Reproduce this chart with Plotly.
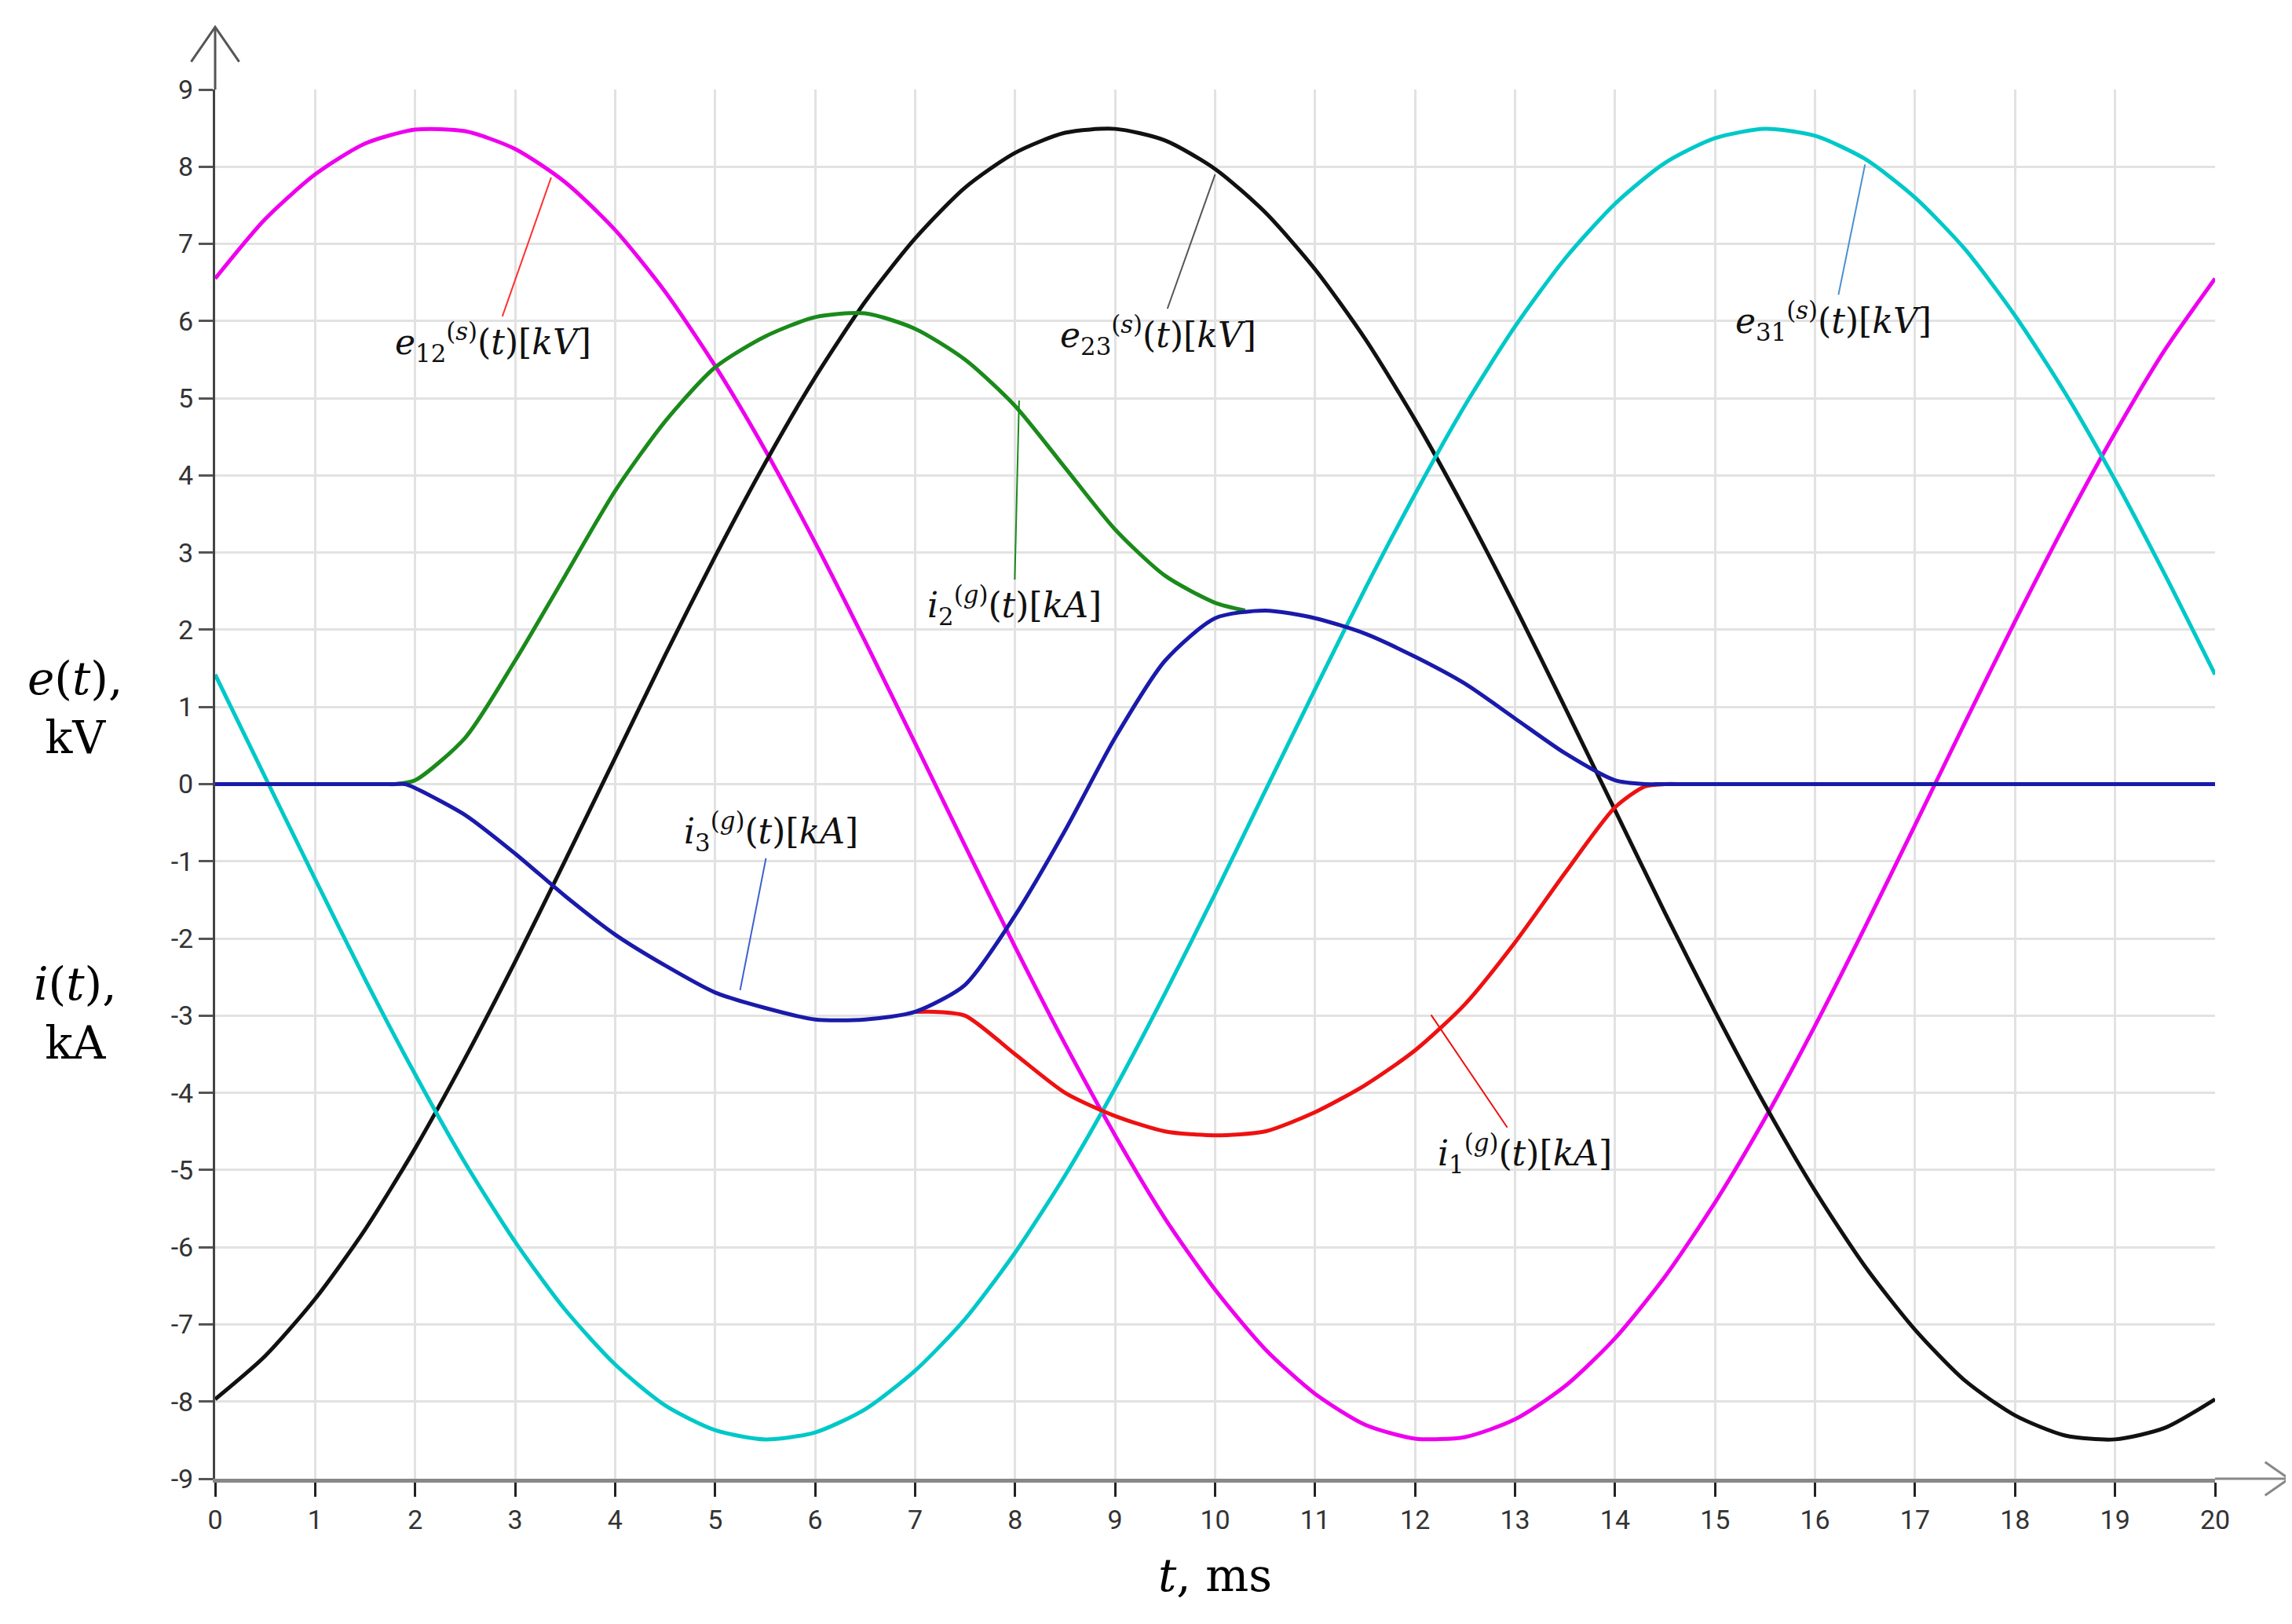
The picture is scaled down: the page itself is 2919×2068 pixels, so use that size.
import plotly.graph_objects as go

t_e = [i * 0.5 for i in range(41)]
e12 = [6.55, 7.32, 7.90, 8.30, 8.48, 8.46, 8.23, 7.80, 7.18, 6.38, 5.42, 4.33, 3.13, 1.85, 0.53,
       -0.80, -2.11, -3.37, -4.55, -5.63, -6.55, -7.32, -7.90, -8.30, -8.48, -8.46, -8.23, -7.80,
       -7.18, -6.38, -5.42, -4.33, -3.13, -1.85, -0.53, 0.80, 2.11, 3.37, 4.55, 5.63, 6.55]
e23 = [-7.97, -7.41, -6.67, -5.77, -4.72, -3.55, -2.30, -0.99, 0.34, 1.67, 2.95, 4.16, 5.27, 6.25,
       7.07, 7.73, 8.18, 8.44, 8.49, 8.34, 7.97, 7.41, 6.67, 5.77, 4.72, 3.55, 2.30, 0.99, -0.34,
       -1.67, -2.95, -4.16, -5.27, -6.25, -7.07, -7.73, -8.18, -8.44, -8.49, -8.34, -7.97]
e31 = [1.42, 0.09, -1.23, -2.53, -3.76, -4.91, -5.93, -6.81, -7.52, -8.05, -8.37, -8.49, -8.40,
       -8.10, -7.60, -6.93, -6.07, -5.07, -3.94, -2.71, -1.42, -0.09, 1.23, 2.53, 3.76, 4.91, 5.93,
       6.81, 7.52, 8.05, 8.37, 8.49, 8.40, 8.10, 7.60, 6.93, 6.07, 5.07, 3.94, 2.71, 1.42]

t_i2 = [0, 1.7, 1.8, 2, 2.5, 3, 3.5, 4, 4.5, 5, 5.5, 6, 6.5, 7, 7.5, 8, 8.5, 9, 9.5, 10, 10.3]
i2 = [0, 0, 0, 0.05, 0.6, 1.6, 2.7, 3.8, 4.7, 5.4, 5.8, 6.05, 6.1, 5.9, 5.5, 4.9, 4.1, 3.3, 2.7, 2.35, 2.25]

t_i3 = [0, 1.8, 1.9, 2, 2.5, 3, 3.5, 4, 4.5, 5, 5.5, 6, 6.5, 7, 7.5, 8, 8.5, 9, 9.5, 10, 10.5, 11,
        11.5, 12, 12.5, 13, 13.5, 14, 14.3, 14.5, 20]
i3 = [0, 0, 0, -0.05, -0.4, -0.9, -1.45, -1.95, -2.35, -2.7, -2.9, -3.05, -3.05, -2.95, -2.6, -1.7,
      -0.6, 0.6, 1.6, 2.15, 2.25, 2.15, 1.95, 1.65, 1.3, 0.85, 0.4, 0.05, 0, 0, 0]

t_i1 = [7.0, 7.2, 7.5, 8, 8.5, 9, 9.5, 10, 10.5, 11, 11.5, 12, 12.5, 13, 13.5, 14, 14.3, 14.5, 14.7, 20]
i1 = [-2.95, -2.95, -3.0, -3.5, -4.0, -4.3, -4.5, -4.55, -4.5, -4.25, -3.9, -3.45, -2.85, -2.05, -1.15,
      -0.3, -0.03, 0, 0, 0]

fig = go.Figure()
def add(x, y, c, w=5):
    fig.add_trace(go.Scatter(x=x, y=y, mode="lines",
                             line=dict(color=c, width=w, shape="spline", smoothing=0.7),
                             showlegend=False))
add(t_e, e12, "#ee00ee")
add(t_e, e23, "#111111")
add(t_e, e31, "#00c8c8")
add(t_i2, i2, "#1a8a1a")
add(t_i1, i1, "#ee1111")
add(t_i3, i3, "#1a1aaa")

labels = [
    ("<i>e</i><sub>12</sub><sup>(<i>s</i>)</sup>(<i>t</i>)[<i>kV</i>]", 2.78, 5.72, 3.36, 7.86, "#ff3030"),
    ("<i>e</i><sub>23</sub><sup>(<i>s</i>)</sup>(<i>t</i>)[<i>kV</i>]", 9.43, 5.82, 10.0, 7.9, "#555555"),
    ("<i>e</i><sub>31</sub><sup>(<i>s</i>)</sup>(<i>t</i>)[<i>kV</i>]", 16.18, 6.0, 16.5, 8.03, "#4a90d0"),
    ("<i>i</i><sub>2</sub><sup>(<i>g</i>)</sup>(<i>t</i>)[<i>kA</i>]", 7.99, 2.31, 8.04, 4.97, "#1a8a1a"),
    ("<i>i</i><sub>3</sub><sup>(<i>g</i>)</sup>(<i>t</i>)[<i>kA</i>]", 5.56, -0.62, 5.25, -2.67, "#3a60d0"),
    ("<i>i</i><sub>1</sub><sup>(<i>g</i>)</sup>(<i>t</i>)[<i>kA</i>]", 13.1, -4.79, 12.16, -2.99, "#ee1111"),
]
for txt, tx, ty, px, py, c in labels:
    fig.add_annotation(x=px, y=py, ax=tx, ay=ty, axref="x", ayref="y", xref="x", yref="y",
                       text=txt, showarrow=True, arrowhead=0, arrowwidth=2, arrowcolor=c,
                       font=dict(family="DejaVu Serif", size=44, color="#111"))

yt = list(range(-9, 10))
W, H = 2919, 2068
L, R, T, B = 266, 106, 106, 193
tickf = dict(family="Liberation Sans Narrow, Arial Narrow, Roboto, sans-serif", size=34, color="#333")
fig.update_layout(
    width=W, height=H, margin=dict(l=L, r=R, t=T, b=B),
    plot_bgcolor="white", paper_bgcolor="white",
    xaxis=dict(range=[0, 20], tickvals=list(range(21)), showgrid=True, gridcolor="#e2e2e2",
               gridwidth=3, zeroline=False, showline=True, linecolor="#888", linewidth=5,
               ticks="outside", ticklen=18, tickwidth=3, tickcolor="#222", tickfont=tickf),
    yaxis=dict(range=[-9, 9], tickvals=yt, ticktext=[str(v) for v in yt], showgrid=True,
               gridcolor="#e2e2e2", gridwidth=3, zeroline=False, showline=True, linecolor="#444",
               linewidth=3, ticks="outside", ticklen=18, tickwidth=3, tickcolor="#555", tickfont=tickf),
)
fig.add_shape(type="line", xref="paper", yref="paper", x0=0, x1=0, y0=1, y1=1.045,
              line=dict(color="#555", width=3))
fig.add_shape(type="path", xref="paper", yref="paper",
              path="M -0.012,1.02 L 0,1.045 L 0.012,1.02", line=dict(color="#555", width=3))
fig.add_shape(type="line", xref="paper", yref="paper", x0=1, x1=1.037, y0=0, y1=0,
              line=dict(color="#888", width=3))
fig.add_shape(type="path", xref="paper", yref="paper",
              path="M 1.025,0.012 L 1.037,0 L 1.025,-0.012", line=dict(color="#888", width=3))

tf = dict(family="DejaVu Serif", size=58, color="black")
fig.add_annotation(xref="paper", yref="paper", x=-0.07, y=0.555, xanchor="center", showarrow=False,
                   text="<i>e</i>(<i>t</i>),<br>kV", font=tf, align="center")
fig.add_annotation(xref="paper", yref="paper", x=-0.07, y=0.335, xanchor="center", showarrow=False,
                   text="<i>i</i>(<i>t</i>),<br>kA", font=tf, align="center")
fig.add_annotation(xref="paper", yref="paper", x=0.5, y=-0.09, showarrow=False,
                   text="<i>t</i>, ms", font=tf)

fig.write_html("out.html")
